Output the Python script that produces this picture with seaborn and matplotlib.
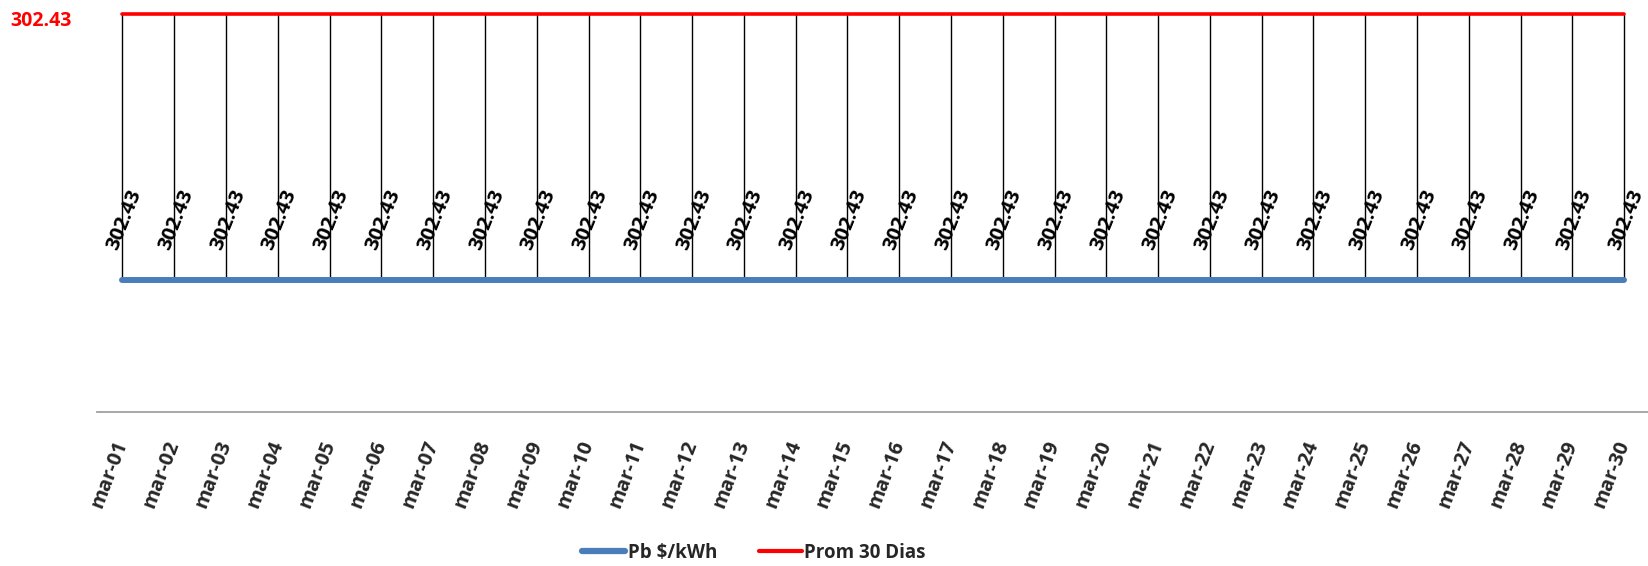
import matplotlib
matplotlib.use("Agg")
import matplotlib.pyplot as plt
import matplotlib.transforms as mtransforms
from matplotlib.lines import Line2D
import seaborn as sns
import pandas as pd

# ---- data ----
dates = [f"mar-{d:02d}" for d in range(1, 31)]
pb_values = [302.43] * 30
prom30_values = [302.43] * 30
series_names = ["Pb $/kWh", "Prom 30 Dias"]
prom_label = "302.43"

sns.set_theme(style="white")
plt.rcParams['font.family'] = ['Open Sans', 'DejaVu Sans']
plt.rcParams['font.weight'] = 'bold'

df = pd.DataFrame({"x": list(range(len(dates))), "pb": pb_values, "prom": prom30_values})

W, H = 1648, 566
fig = plt.figure(figsize=(W / 100, H / 100), dpi=100)
ax = fig.add_axes([97 / W, (H - 412) / H, (W - 97) / W, (412 - 13.5) / H])
ax2 = ax.twinx()

blue = "#4a7ebb"
red = "#ff0000"

sns.lineplot(data=df, x="x", y="pb", ax=ax, color=blue, linewidth=4.3,
             solid_capstyle="round", legend=False, zorder=3)
sns.lineplot(data=df, x="x", y="prom", ax=ax2, color=red, linewidth=2.6,
             legend=False, clip_on=False)

ax.set_xlim(-0.492, 29.46)
ax.set_ylim(0, 913)
ax2.set_ylim(0, 302.43)

# drop lines from average line down to Pb line
ytop = ax.get_ylim()[1]
ax.vlines(df["x"], df["pb"], ytop, color="black", linewidth=1.0, zorder=1, clip_on=False)

# data labels
for xi, v in zip(df["x"], df["pb"]):
    ax.annotate(f"{v:.2f}", (xi, v), xytext=(2, 60), textcoords="offset pixels",
                ha="center", va="center", rotation=68, fontsize=14.5,
                fontweight="bold", color="black")

# red label at the left for the average
trans = mtransforms.blended_transform_factory(fig.transFigure, ax2.transData)
ax2.annotate(prom_label, (41 / W, prom30_values[0]), xycoords=trans,
             xytext=(0, -8), textcoords="offset pixels", ha="center",
             va="center", color=red, fontsize=14, fontweight="bold",
             annotation_clip=False)

ax.set_xticks(df["x"])
ax.set_xticklabels(dates, fontsize=14.5, fontweight="bold")
plt.setp(ax.get_xticklabels(), rotation=69, ha="right", va="center",
         rotation_mode="anchor")
ax.tick_params(axis="x", length=0, pad=21)
ax.set_yticks([])
ax2.set_yticks([])
ax.set_xlabel("")
ax.set_ylabel("")
ax2.set_ylabel("")
for a in (ax, ax2):
    for s in ("top", "left", "right", "bottom"):
        a.spines[s].set_visible(False)
ax.spines["bottom"].set_visible(True)
ax.spines["bottom"].set_color("#a0a0a0")
ax.spines["bottom"].set_linewidth(1.3)

handles = [Line2D([0], [0], color=blue, linewidth=4.5, solid_capstyle="round"),
           Line2D([0], [0], color=red, linewidth=3)]
fig.legend(handles, series_names, loc="center", bbox_to_anchor=(754 / W, (H - 553) / H),
           ncol=2, frameon=False, handlelength=2.3, handletextpad=0.15,
           columnspacing=2.2, prop={"weight": "bold", "size": 13.5})

fig.savefig("out.png", dpi=100)
